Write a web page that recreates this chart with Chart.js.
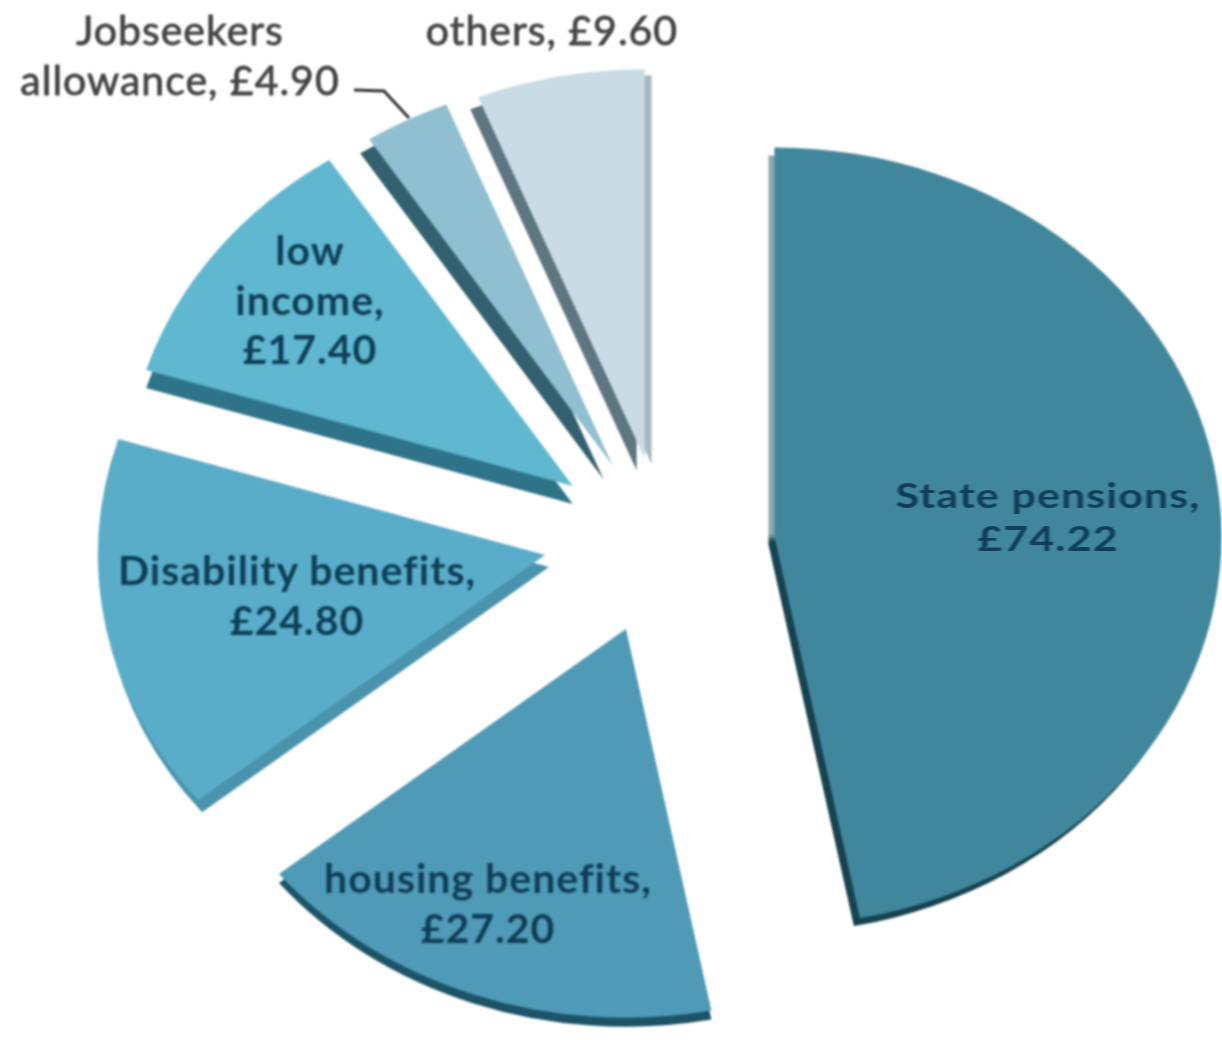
<!DOCTYPE html>
<html>
<head>
<meta charset="utf-8">
<title>Benefits</title>
<script src="https://cdn.jsdelivr.net/npm/chart.js@4"></script>
<style>
  html, body { margin: 0; background: #fff; }
  #wrap { position: relative; width: 1222px; height: 1040px; overflow: hidden; }
  #pie { position: absolute; left: 0; top: 0; filter: blur(1px); }
  .lbl {
    position: absolute; text-align: center;
    font-family: Lato, "Open Sans", sans-serif; font-size: 41px; line-height: 49.5px;
    letter-spacing: 1px; filter: blur(0.8px);
  }
</style>
</head>
<body>
<div id="wrap"><canvas id="pie" width="1222" height="1040"></canvas></div>
<script>
const categorias = ['State pensions', 'housing benefits', 'Disability benefits', 'low income', 'Jobseekers allowance', 'others'];
const valores = [74.22, 27.20, 24.80, 17.40, 4.90, 9.60];
const colores = ['#41879C', '#4F9AB6', '#59ADC8', '#5FB7D0', '#8FBFD1', '#C9DBE5'];

// how each slice is pulled out and what its side looks like
const separacion = [115, 94, 110, 112, 107, 97];
const ajustes = [[0, -2], [-2, 4], [-7, -11], [2, -3], [2, 0], [3, -7]];
const lados = [
  [{ dx: -6, dy: 8, color: 'pension' }],
  [{ dx: 0, dy: 9, color: '#1C5367' }],
  [{ dx: 4, dy: 12, color: '#4A93AD' }],
  [{ dx: 0, dy: 18, color: '#2F7389' }],
  [{ dx: -9, dy: 14, color: '#33606E' }],
  [{ dx: 7, dy: 6, color: '#A9B8C0' }, { dx: -8, dy: 12, color: '#5E7680' }]
];
const ACHATADO = 0.87;

// where the labels go: x centre, top, wrap width, stretch
const posiciones = [
  { x: 1048, y: 467, w: 320, sx: 1.05, sy: 0.85, color: '#0F3F58', peso: 700, borde: 0 },
  { x: 488, y: 853, w: 370, sx: 1, sy: 1, color: '#0F3F58', peso: 700, borde: 0 },
  { x: 297, y: 545, w: 400, sx: 1, sy: 1, color: '#0F3F58', peso: 700, borde: 0 },
  { x: 310, y: 225, w: 175, sx: 1, sy: 1, color: '#0F3F58', peso: 700, borde: 0 },
  { x: 180, y: 5, w: 360, sx: 1, sy: 1, color: '#444', peso: 400, borde: 0.8 },
  { x: 552, y: 5, w: 300, sx: 1, sy: 1, color: '#444', peso: 400, borde: 0.8 }
];

const wrap = document.getElementById('wrap');
categorias.forEach((c, i) => {
  const p = posiciones[i];
  const d = document.createElement('div');
  d.className = 'lbl';
  d.textContent = `${c}, £${valores[i].toFixed(2)}`;
  d.style.left = p.x + 'px';
  d.style.top = p.y + 'px';
  d.style.width = p.w + 'px';
  d.style.color = p.color;
  d.style.fontWeight = p.peso;
  d.style.webkitTextStroke = p.borde + 'px ' + p.color;
  d.style.transform = `translate(-50%, 0) scale(${p.sx}, ${p.sy})`;
  wrap.appendChild(d);
});

const tarta3d = {
  id: 'tarta3d',
  beforeDatasetsDraw(chart) {
    const ctx = chart.ctx;
    const arcos = chart.getDatasetMeta(0).data;
    // grey above the bend of the big slice, near black below it
    const ladoPension = ctx.createLinearGradient(0, 500, 0, 560);
    ladoPension.addColorStop(0, '#8CA6AE');
    ladoPension.addColorStop(0.6, '#8CA6AE');
    ladoPension.addColorStop(0.75, '#17424F');
    ladoPension.addColorStop(1, '#17424F');
    const pintar = (arc, i, dx, dy) => {
      const medio = (arc.startAngle + arc.endAngle) / 2;
      ctx.save();
      ctx.translate(dx + ajustes[i][0], dy + ajustes[i][1]);
      ctx.translate(arc.x, arc.y);
      ctx.scale(1, ACHATADO);
      ctx.translate(-arc.x, -arc.y);
      ctx.translate(Math.cos(medio) * separacion[i], Math.sin(medio) * separacion[i]);
      arc.draw(ctx);
      ctx.restore();
    };
    arcos.forEach((arc, i) => {
      const original = arc.options;
      lados[i].forEach(l => {
        const color = l.color === 'pension' ? ladoPension : l.color;
        arc.options = Object.assign({}, original, { backgroundColor: color, borderColor: color });
        pintar(arc, i, l.dx, l.dy);
      });
      arc.options = original;
      pintar(arc, i, 0, 0);
    });
    // leader line of the jobseekers label
    ctx.save();
    ctx.strokeStyle = '#333';
    ctx.lineWidth = 3;
    ctx.beginPath();
    ctx.moveTo(354, 90);
    ctx.lineTo(384, 91);
    ctx.lineTo(409, 118);
    ctx.stroke();
    ctx.restore();
    return false;
  }
};

new Chart(document.getElementById('pie'), {
  type: 'pie',
  data: {
    labels: categorias,
    datasets: [{ data: valores, backgroundColor: colores, borderWidth: 0, radius: 447 }]
  },
  options: {
    responsive: false,
    animation: false,
    layout: { padding: { left: 98, top: 56 } },
    plugins: { legend: { display: false }, tooltip: { enabled: false } }
  },
  plugins: [tarta3d]
});
</script>
</body>
</html>
